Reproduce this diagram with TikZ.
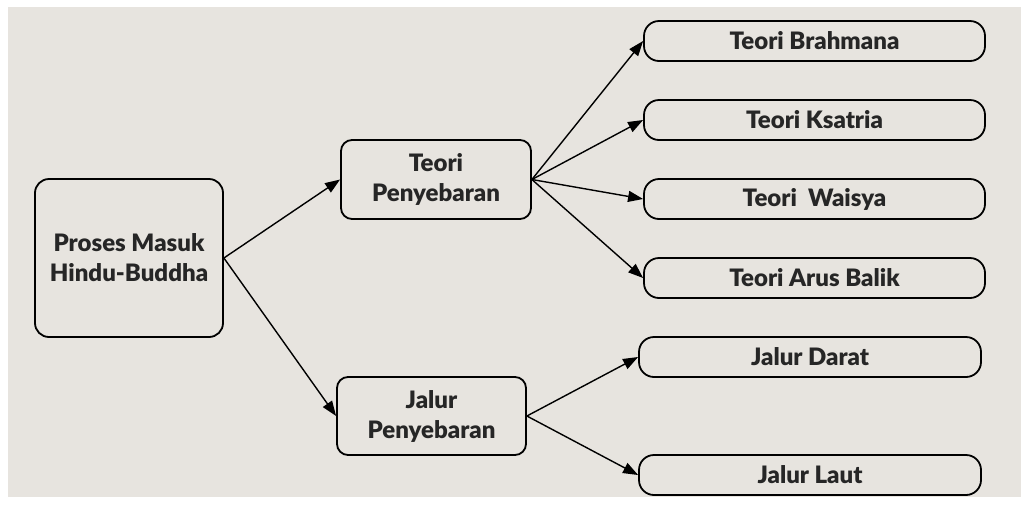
\documentclass[tikz,border=0pt]{standalone}
\usepackage{fontspec}
\setmainfont{Lato}[BoldFont={Lato Black}]
\usetikzlibrary{arrows.meta}
\definecolor{bg}{HTML}{E7E4DF}
\begin{document}
\begin{tikzpicture}[x=1pt,y=-1pt,
  box/.style={draw=black, line width=1.8pt, rounded corners=11pt, inner sep=0pt, align=center,
    font=\fontsize{24}{30}\selectfont\bfseries, text=black!85},
  conn/.style={line width=1.4pt, -{Triangle[length=15pt,width=11pt]}}]
\useasboundingbox (0,0) rectangle (1021,507);
\fill[white] (0,0) rectangle (1021,507);
\fill[bg] (8,7) rectangle (1021,497);
\node[box, minimum width=188pt, minimum height=158pt, rounded corners=14pt] (pm) at (129,258) {Proses Masuk\\Hindu-Buddha};
\node[box, minimum width=190pt, minimum height=79pt] (tp) at (436,179.5) {Teori\\Penyebaran};
\node[box, minimum width=189pt, minimum height=78pt] (jp) at (431.5,416) {Jalur\\Penyebaran};
\node[box, minimum width=341pt, minimum height=40pt, rounded corners=15pt] (tb) at (814.5,41) {Teori Brahmana};
\node[box, minimum width=341pt, minimum height=40pt, rounded corners=15pt] (tk) at (814.5,120) {Teori Ksatria};
\node[box, minimum width=341pt, minimum height=40pt, rounded corners=15pt] (tw) at (814.5,199) {Teori\ \ Waisya};
\node[box, minimum width=341pt, minimum height=40pt, rounded corners=15pt] (ta) at (814.5,278) {Teori Arus Balik};
\node[box, minimum width=342pt, minimum height=40pt, rounded corners=15pt] (jd) at (810,357) {Jalur Darat};
\node[box, minimum width=342pt, minimum height=40pt, rounded corners=15pt] (jl) at (810,475) {Jalur Laut};
\coordinate (pmr) at (pm.east);
\coordinate (tpr) at (tp.east);
\coordinate (jpr) at (jp.east);
\draw[conn] (pmr) -- (tp.west);
\draw[conn] (pmr) -- (jp.west);
\draw[conn] (tpr) -- (tb.west);
\draw[conn] (tpr) -- (tk.west);
\draw[conn] (tpr) -- (tw.west);
\draw[conn] (tpr) -- (ta.west);
\draw[conn] (jpr) -- (jd.west);
\draw[conn] (jpr) -- (jl.west);
\end{tikzpicture}
\end{document}
